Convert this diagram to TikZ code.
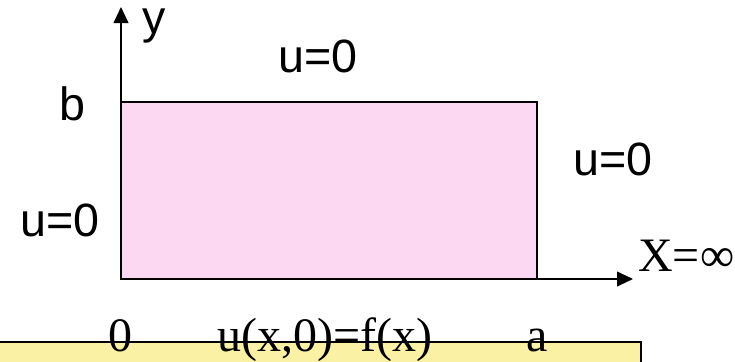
\documentclass[tikz,border=0pt]{standalone}
\usepackage{fontspec}
\setmainfont{Liberation Serif}
\setsansfont{Liberation Sans}
\usetikzlibrary{arrows.meta}
\definecolor{pinkfill}{RGB}{252,216,243}
\definecolor{yellowfill}{RGB}{250,241,165}
\tikzset{
  axis/.style={line width=1.5pt,-{Triangle[length=12pt,width=11pt]}},
  sanslbl/.style={font=\sffamily\fontsize{35}{40}\selectfont,anchor=base,inner sep=0pt},
  seriflbl/.style={font=\rmfamily\fontsize{36}{40}\selectfont,anchor=base,inner sep=0pt},
}
\begin{document}
\begin{tikzpicture}[x=0.75pt,y=-0.75pt]
\useasboundingbox (0,0) rectangle (735,361);
% region
\draw[line width=1.1pt,fill=pinkfill] (121,102) rectangle (537,279);
% axes
\coordinate (O) at (121,279);
\coordinate (Ytip) at (121,7);
\coordinate (Xtip) at (633,279);
\draw[axis] (O) -- (Ytip);
\draw[axis] (O) -- (Xtip);
% bottom box
\draw[line width=1.1pt,fill=yellowfill] (-5,342) rectangle (641,375);
% labels
\node[sanslbl,text height=0.5em] (ly) at (154,33) {y};
\node[sanslbl] (ltop) at (318,72) {u=0};
\node[sanslbl] (lb) at (72,120) {b};
\node[sanslbl] (lright) at (613,175) {u=0};
\node[sanslbl] (lleft) at (60,236) {u=0};
\node[seriflbl,anchor=base west] (linf) at (638,271) {X=∞};
\node[seriflbl] (l0) at (120,351) {0};
\node[seriflbl,anchor=base west] (lf) at (217,351) {u(x,0)=f(x)};
\node[seriflbl] (la) at (537,351) {a};
\end{tikzpicture}
\end{document}
